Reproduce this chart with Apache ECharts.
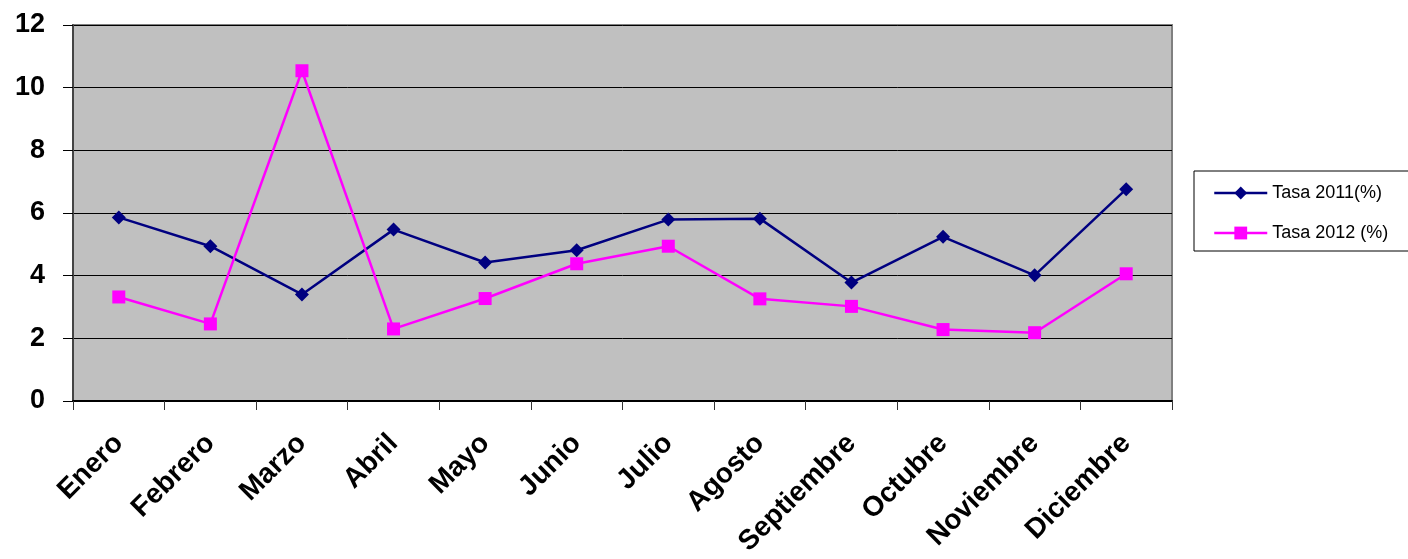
<!DOCTYPE html>
<html>
<head>
<meta charset="utf-8">
<script src="https://cdn.jsdelivr.net/npm/echarts@6/dist/echarts.min.js"></script>
<style>
  html, body { margin: 0; padding: 0; background: #fff; }
  #chart { width: 1408px; height: 559px; }
</style>
</head>
<body>
<div id="chart"></div>
<script>
// months on the x axis
const months = ["Enero", "Febrero", "Marzo", "Abril", "Mayo", "Junio",
    "Julio", "Agosto", "Septiembre", "Octubre", "Noviembre", "Diciembre"];

// rates
const tasa2011 = [5.86, 4.94, 3.40, 5.47, 4.42, 4.81, 5.79, 5.82, 3.78, 5.24, 4.01, 6.76];
const tasa2012 = [3.32, 2.46, 10.54, 2.30, 3.27, 4.38, 4.94, 3.26, 3.02, 2.28, 2.18, 4.06];

const chart = echarts.init(document.getElementById("chart"));

const options = {
    animation: false,
    textStyle: { fontFamily: "Liberation Sans, Arial, sans-serif" },
    grid: {
        left: 73,
        right: 236,
        top: 25,
        bottom: 158,
        show: true,
        backgroundColor: "#c0c0c0",
        borderColor: "#808080",
        borderWidth: 2,
    },
    legend: {
        orient: "vertical",
        left: 1194,
        top: 171,
        padding: [13, 40, 9, 19],
        itemGap: 22,
        itemWidth: 53,
        itemHeight: 16,
        borderColor: "#000",
        borderWidth: 1,
        backgroundColor: "#fff",
        lineStyle: { width: 2.5 },
        textStyle: { fontSize: 18, color: "#000" },
        data: ["Tasa 2011(%)", "Tasa 2012 (%)"],
    },
    xAxis: {
        type: "category",
        data: months,
        boundaryGap: true,
        axisLine: { show: true, lineStyle: { color: "#000", width: 2 } },
        axisTick: {
            show: true,
            interval: 0,
            length: 9,
            lineStyle: { color: "#333", width: 1 },
        },
        axisLabel: {
            interval: 0,
            rotate: 45,
            margin: 38,
            fontSize: 28,
            fontWeight: "bold",
            color: "#000",
        },
        splitLine: { show: false },
    },
    yAxis: {
        type: "value",
        min: 0,
        max: 12,
        interval: 2,
        axisLine: { show: true, lineStyle: { color: "#444", width: 2 } },
        axisTick: {
            show: true,
            inside: false,
            length: 10,
            lineStyle: { color: "#000", width: 1 },
        },
        axisLabel: {
            margin: 28,
            fontSize: 27,
            fontWeight: "bold",
            color: "#000",
        },
        splitLine: { show: true, lineStyle: { color: "#000", width: 1 } },
    },
    series: [
        {
            name: "Tasa 2011(%)",
            type: "line",
            data: tasa2011,
            symbol: "diamond",
            symbolSize: 14,
            lineStyle: { color: "#000080", width: 2.5 },
            itemStyle: { color: "#000080" },
        },
        {
            name: "Tasa 2012 (%)",
            type: "line",
            data: tasa2012,
            symbol: "rect",
            symbolSize: 13,
            lineStyle: { color: "#ff00ff", width: 2.5 },
            itemStyle: { color: "#ff00ff" },
        },
    ],
};

chart.setOption(options, true);
</script>
</body>
</html>
